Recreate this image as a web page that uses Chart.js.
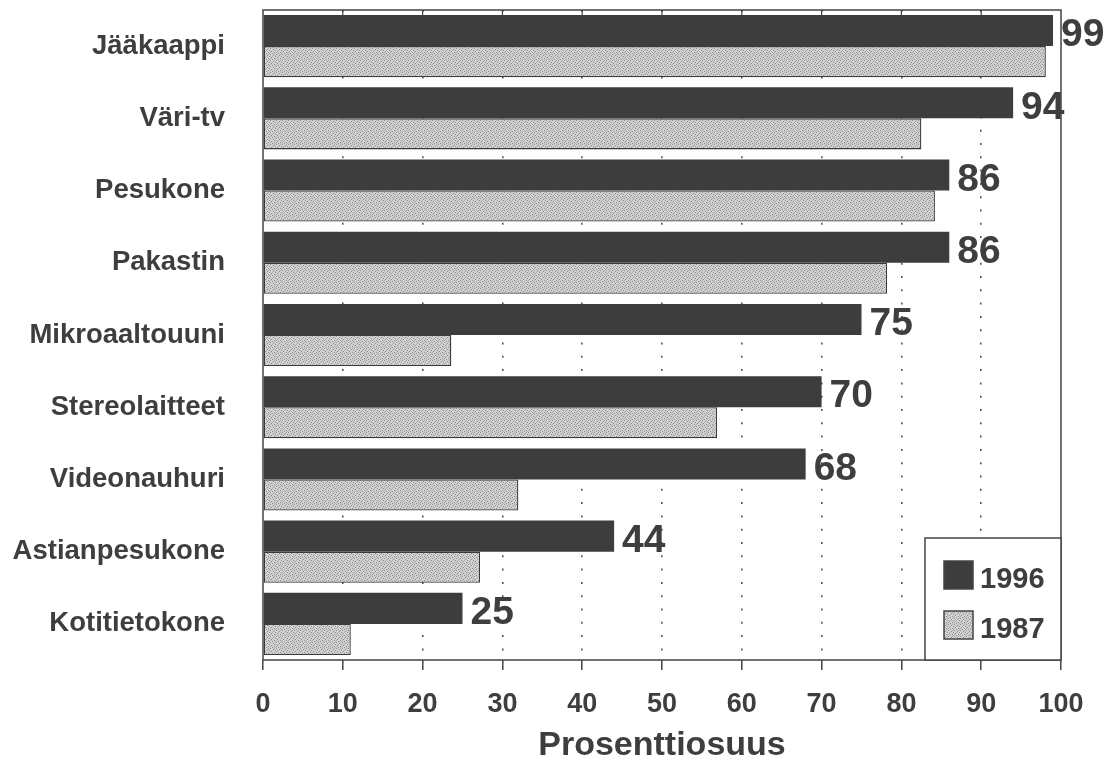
<!DOCTYPE html>
<html>
<head>
<meta charset="utf-8">
<script src="https://cdn.jsdelivr.net/npm/chart.js@4"></script>
<style>
  html, body { margin: 0; padding: 0; background: #ffffff; }
  #wrap { width: 1114px; height: 766px; position: relative; }
</style>
</head>
<body>
<div id="wrap"><canvas id="c"></canvas></div>
<script>
const categories = ["Jääkaappi", "Väri-tv", "Pesukone", "Pakastin", "Mikroaaltouuni",
                    "Stereolaitteet", "Videonauhuri", "Astianpesukone", "Kotitietokone"];
const values1996 = [99, 94, 86, 86, 75, 70, 68, 44, 25];
const values1987 = [98.1, 82.5, 84.2, 78.2, 23.6, 56.9, 32.0, 27.2, 11.0];
const seriesNames = ["1996", "1987"];
const xTicks = [0, 10, 20, 30, 40, 50, 60, 70, 80, 90, 100];
const axisTitle = "Prosenttiosuus";

const TEXT = "#3e3e3e";
const DARK = "#3d3d3d";
const FONT = "'Liberation Sans', Arial, Helvetica, sans-serif";

function makeStipple() {
  const c = document.createElement("canvas");
  c.width = 6; c.height = 6;
  const g = c.getContext("2d");
  g.fillStyle = "#d2d2d2";
  g.fillRect(0, 0, 6, 6);
  g.fillStyle = "#8a8a8a";
  const dots = [[0,0],[3,1],[1,3],[4,4],[2,5],[5,2]];
  dots.forEach(d => g.fillRect(d[0], d[1], 1, 1));
  g.fillStyle = "#b0b0b0";
  [[2,2],[5,5],[0,4],[4,0]].forEach(d => g.fillRect(d[0], d[1], 1, 1));
  return g.createPattern(c, "repeat");
}
const stipple = makeStipple();

const framePlugin = {
  id: "frame",
  afterDatasetsDraw(chart) {
    const { ctx, chartArea: a, scales } = chart;
    ctx.save();
    ctx.strokeStyle = "#444";
    ctx.lineWidth = 1.5;
    ctx.strokeRect(a.left, a.top, a.right - a.left, a.bottom - a.top);
    ctx.lineWidth = 1.2;
    xTicks.forEach(v => {
      if (v === 0 || v === 100) return;
      const x = scales.x.getPixelForValue(v);
      ctx.beginPath();
      ctx.moveTo(x, a.top);
      ctx.lineTo(x, a.top + 5);
      ctx.stroke();
    });
    ctx.restore();
  }
};

const valueLabelPlugin = {
  id: "valueLabels",
  afterDatasetsDraw(chart) {
    const { ctx } = chart;
    const meta = chart.getDatasetMeta(0);
    ctx.save();
    ctx.font = "bold 39px " + FONT;
    ctx.fillStyle = TEXT;
    ctx.textAlign = "left";
    ctx.textBaseline = "middle";
    meta.data.forEach((bar, i) => {
      ctx.fillText(String(values1996[i]), bar.x + 8, bar.y + 5);
    });
    ctx.restore();
  }
};

const legendPlugin = {
  id: "boxLegend",
  afterDraw(chart) {
    const { ctx, chartArea: a } = chart;
    const x0 = 925, y0 = 538;
    ctx.save();
    ctx.fillStyle = "#ffffff";
    ctx.fillRect(x0, y0, a.right - x0, a.bottom - y0);
    ctx.strokeStyle = "#444";
    ctx.lineWidth = 1.5;
    ctx.strokeRect(x0, y0, a.right - x0, a.bottom - y0);
    ctx.fillStyle = DARK;
    ctx.fillRect(944, 561, 29, 28);
    ctx.strokeRect(944, 561, 29, 28);
    ctx.fillStyle = stipple;
    ctx.fillRect(944, 611, 29, 28);
    ctx.strokeRect(944, 611, 29, 28);
    ctx.font = "bold 29px " + FONT;
    ctx.fillStyle = TEXT;
    ctx.textAlign = "left";
    ctx.textBaseline = "middle";
    ctx.fillText(seriesNames[0], 980, 580);
    ctx.fillText(seriesNames[1], 980, 630);
    ctx.restore();
  }
};

new Chart(document.getElementById("c"), {
  type: "bar",
  data: {
    labels: categories,
    datasets: [
      {
        label: seriesNames[0],
        data: values1996,
        backgroundColor: DARK,
        borderColor: DARK,
        borderWidth: 0,
        categoryPercentage: 0.86,
        barPercentage: 1.0
      },
      {
        label: seriesNames[1],
        data: values1987,
        backgroundColor: stipple,
        borderColor: "#3a3a3a",
        borderWidth: 1.3,
        borderSkipped: false,
        categoryPercentage: 0.86,
        barPercentage: 1.0
      }
    ]
  },
  options: {
    indexAxis: "y",
    responsive: true,
    maintainAspectRatio: false,
    animation: false,
    layout: { padding: { top: 10, right: 53, left: 0, bottom: 0 } },
    plugins: {
      legend: { display: false },
      tooltip: { enabled: false }
    },
    scales: {
      x: {
        min: 0,
        max: 100,
        afterBuildTicks(scale) { scale.ticks = xTicks.map(v => ({ value: v })); },
        afterFit(scale) { scale.height = 106; },
        border: { display: false, dash: [2, 11.3] },
        grid: {
          drawOnChartArea: true,
          drawTicks: true,
          tickLength: 10,
          lineWidth: 1.6,
          color: (c) => (c.tick && (c.tick.value === 0 || c.tick.value === 100)) ? "rgba(0,0,0,0)" : "#555",
          tickColor: "#444",
          tickWidth: 1.5,
          tickBorderDash: []
        },
        ticks: {
          color: TEXT,
          font: { family: FONT, size: 27, weight: "bold" },
          padding: 18,
          maxRotation: 0
        },
        title: {
          display: true,
          text: axisTitle,
          color: TEXT,
          font: { family: FONT, size: 34, weight: "bold" },
          padding: { top: 0, bottom: 0 }
        }
      },
      y: {
        afterFit(scale) {
          scale.width = 263;
          scale.paddingTop = 0;
          scale.paddingBottom = 0;
        },
        border: { display: false },
        grid: { display: false, drawTicks: false },
        ticks: {
          color: TEXT,
          font: { family: FONT, size: 27.5, weight: "bold" },
          padding: 38
        }
      }
    }
  },
  plugins: [framePlugin, valueLabelPlugin, legendPlugin]
});
</script>
</body>
</html>
